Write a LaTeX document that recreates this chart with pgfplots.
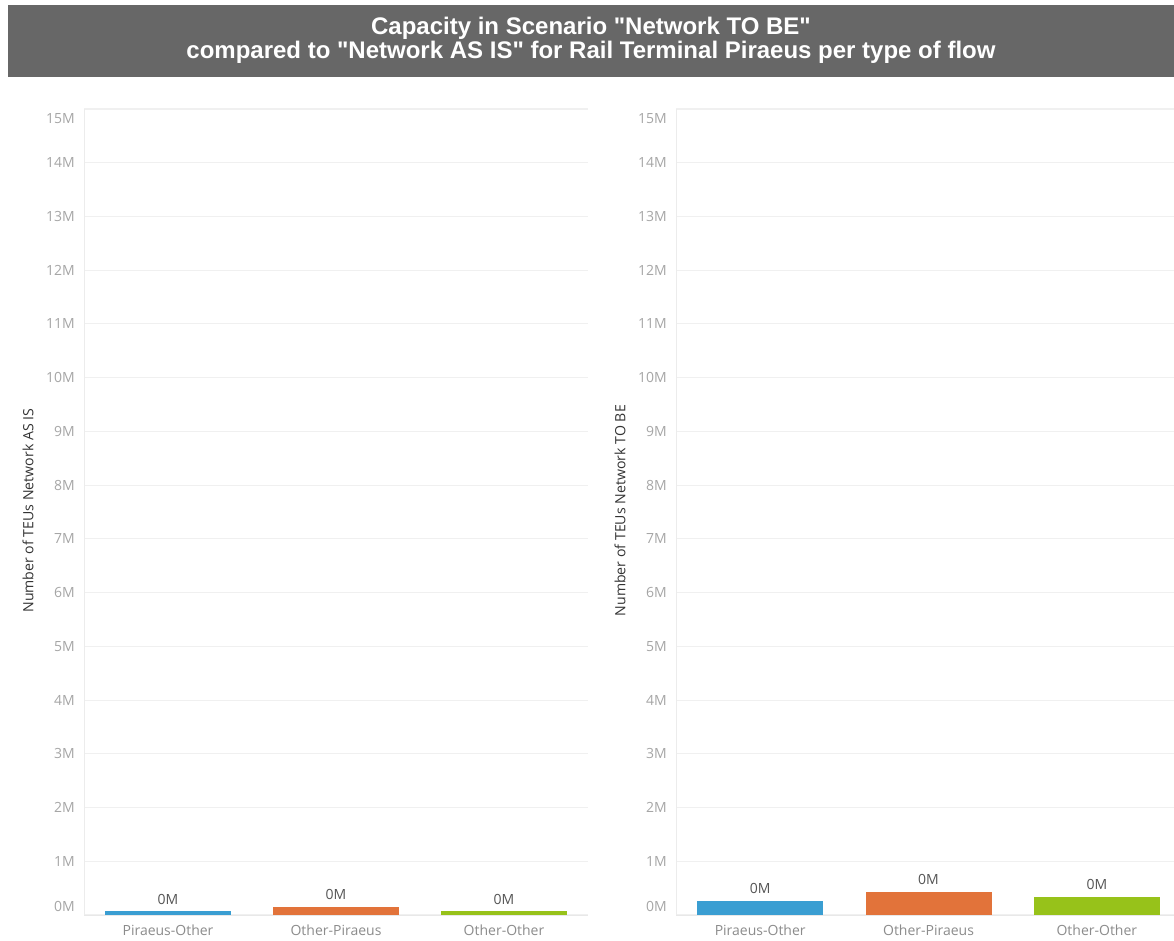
\documentclass[border=0pt]{standalone}
\usepackage{pgfplots}
\pgfplotsset{compat=1.18}
\usepackage{fontspec}
\setmainfont{Open Sans}
\newfontfamily\titlefont{Liberation Sans}

\definecolor{barblue}{HTML}{3A9ED2}
\definecolor{barorange}{HTML}{E2733A}
\definecolor{bargreen}{HTML}{97C21A}
\definecolor{titlebg}{HTML}{676767}
\definecolor{gridc}{HTML}{F0F0F0}
\definecolor{xaxisc}{HTML}{E8E8E8}
\definecolor{yaxisc}{HTML}{ECECEC}
\definecolor{ticklc}{HTML}{A6A6A6}
\definecolor{catc}{HTML}{8C8C8C}
\definecolor{valc}{HTML}{555555}
\definecolor{ylabc}{HTML}{333333}

\tikzset{endlbl/.style={font=\fontsize{10.5}{12}\selectfont, text=ticklc,
                 anchor=east, inner sep=0pt}}

\pgfplotsset{
  flowaxis/.style={
    scale only axis,
    width=378pt, height=604.5pt,
    anchor=south west,
    xmin=-0.5, xmax=2.5,
    ymin=0, ymax=15,
    ybar, bar width=94.5pt, bar shift=0pt,
    xtick={0,1,2},
    xticklabels={Piraeus-Other,Other-Piraeus,Other-Other},
    ytick={0,...,15},
    yticklabels={,1M,2M,3M,4M,5M,6M,7M,8M,9M,10M,11M,12M,13M,14M,},
    major tick length=0pt,
    tick style={draw=none},
    axis x line*=bottom, axis y line*=left,
    x axis line style={draw=xaxisc},
    y axis line style={draw=yaxisc},
    ymajorgrids, grid style={draw=gridc, line width=0.8pt},
    yticklabel style={font=\fontsize{10.5}{12}\selectfont, text=ticklc,
                      anchor=east, inner sep=0pt, xshift=-6.75pt},
    xticklabel style={font=\fontsize{10.5}{12}\selectfont, text=catc,
                      anchor=base, inner sep=0pt, yshift=-15.75pt},
    ylabel style={font=\fontsize{10.6}{12}\selectfont, text=ylabc,
                  at={(axis description cs:0,0.5)}, anchor=center,
                  yshift=42pt, xshift=1pt},
    /pgf/number format/assume math mode=true,
    nodes near coords={\pgfmathprintnumber[fixed,precision=0]{\pgfplotspointmeta}M},
    every node near coord/.append style={font=\fontsize{10.5}{12}\selectfont,
                  text=valc, anchor=south, inner sep=0pt, yshift=5pt},
    clip=false,
  },
}

\begin{document}
\begin{tikzpicture}
\useasboundingbox (0,0) rectangle (880.5pt,705.75pt);
\fill[white] (0,0) rectangle (880.5pt,705.75pt);

% title bar
\fill[titlebg] (6pt,648pt) rectangle (880.5pt,702pt);
\node[text=white, align=center, font=\titlefont\bfseries\fontsize{18}{18}\selectfont]
  at (443.25pt,675.75pt)
  {Capacity in Scenario "Network TO BE"\\
   compared to "Network AS IS" for Rail Terminal Piraeus per type of flow};

% left panel: network as is (millions of TEUs)
\begin{axis}[flowaxis, at={(63pt,19.5pt)},
  ylabel={Number of TEUs Network AS IS}]
\addplot[fill=barblue, draw=none] coordinates {(0,0.07)};
\addplot[fill=barorange, draw=none] coordinates {(1,0.15)};
\addplot[fill=bargreen, draw=none] coordinates {(2,0.07)};
\node[endlbl] at ([xshift=-6.75pt, yshift=6.75pt]rel axis cs:0,0) {0M};
\node[endlbl] at ([xshift=-6.75pt, yshift=-7.5pt]rel axis cs:0,1) {15M};
\end{axis}

% right panel: network to be (millions of TEUs)
\begin{axis}[flowaxis, at={(507pt,19.5pt)}, width=378.75pt,
  ylabel={Number of TEUs Network TO BE}]
\addplot[fill=barblue, draw=none] coordinates {(0,0.26)};
\addplot[fill=barorange, draw=none] coordinates {(1,0.43)};
\addplot[fill=bargreen, draw=none] coordinates {(2,0.34)};
\node[endlbl] at ([xshift=-6.75pt, yshift=6.75pt]rel axis cs:0,0) {0M};
\node[endlbl] at ([xshift=-6.75pt, yshift=-7.5pt]rel axis cs:0,1) {15M};
\end{axis}
\end{tikzpicture}
\end{document}
